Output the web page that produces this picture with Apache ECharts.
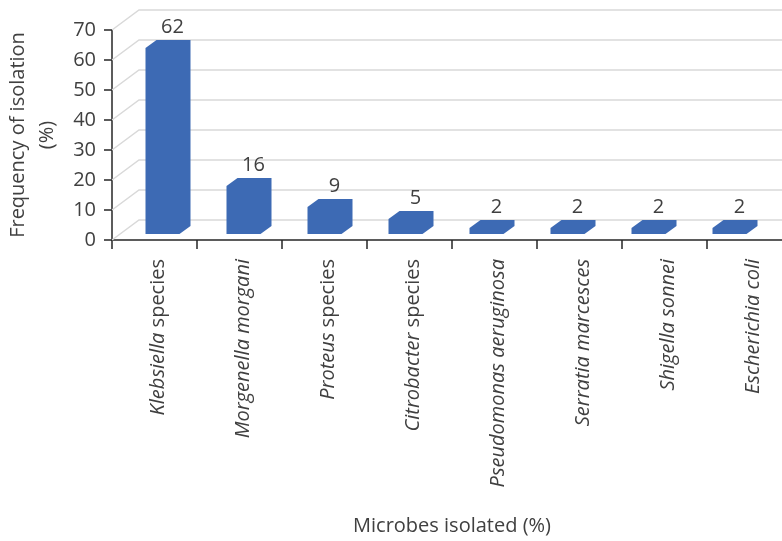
<!DOCTYPE html>
<html>
<head>
<meta charset="utf-8">
<script src="https://cdn.jsdelivr.net/npm/echarts@6/dist/echarts.min.js"></script>
<style>
  html, body { margin: 0; padding: 0; background: #fff; }
  #main { width: 782px; height: 541px; }
</style>
</head>
<body>
<div id="main"></div>
<script>
// microbes isolated and how often (%)
var microbes = [
  'Klebsiella species',
  'Morgenella morgani',
  'Proteus species',
  'Citrobacter species',
  'Pseudomonas aeruginosa',
  'Serratia marcesces',
  'Shigella sonnei',
  'Escherichia coli'
];
var frequency = [62, 16, 9, 5, 2, 2, 2, 2];
var yTicks = [0, 10, 20, 30, 40, 50, 60, 70];

var textColor = '#404040';
var barColor = '#3D6AB4';
var fontFam = '"Open Sans", "Noto Sans", sans-serif';
var fs = 20;

var myChart = echarts.init(document.getElementById('main'));

// genus in italics, "species" upright
function microbeLabel(name) {
  if (/ species$/.test(name)) {
    return '{i|' + name.replace(/ species$/, '') + '} {n|species}';
  }
  return '{i|' + name + '}';
}

// back wall gridlines of the fake 3d box
function renderWall(params, api) {
  var cs = params.coordSys;
  var y = api.coord([0, api.value(1)])[1];
  return {
    type: 'polyline',
    shape: { points: [[cs.x, y], [cs.x + 27, y - 20], [cs.x + cs.width, y - 20]] },
    style: { stroke: '#D9D9D9', lineWidth: 1.5, fill: null },
    z2: 0
  };
}

// 3d-ish column: front face + top + side, all one colour
function renderBar(params, api) {
  var top = api.coord([api.value(0), api.value(1)]);
  var base = api.coord([api.value(0), 0]);
  var fw = 34, dx = 11, dy = 8;
  var x0 = top[0] - fw / 2;
  var x1 = x0 + fw;
  return {
    type: 'group',
    children: [{
      type: 'polygon',
      shape: { points: [
        [x0, base[1]], [x0, top[1]], [x0 + dx, top[1] - dy],
        [x1 + dx, top[1] - dy], [x1 + dx, base[1] - dy], [x1, base[1]]
      ] },
      style: { fill: barColor }
    }, {
      type: 'text',
      x: x0 + 27, y: top[1] - dy - 13,
      style: {
        text: String(api.value(1)),
        fill: textColor, fontSize: fs, fontFamily: fontFam,
        align: 'center', verticalAlign: 'middle'
      }
    }]
  };
}

myChart.setOption({
  animation: false,
  backgroundColor: '#fff',
  textStyle: { fontFamily: fontFam },
  grid: [
    { left: 112, top: 30, width: 680, height: 210, outerBoundsMode: 'none', containLabel: false },
    { left: 122, top: 24, width: 648, height: 210, outerBoundsMode: 'none', containLabel: false }
  ],
  xAxis: [{
    type: 'category',
    gridIndex: 0,
    data: microbes,
    name: 'Microbes isolated (%)',
    nameLocation: 'middle',
    nameGap: 276,
    nameTextStyle: { color: textColor, fontSize: fs },
    axisLine: { lineStyle: { color: '#262626', width: 1.5 } },
    axisTick: { show: true, length: 9, interval: 0, lineStyle: { color: '#262626', width: 1.5 } },
    axisLabel: {
      interval: 0,
      rotate: 90,
      margin: 19,
      padding: [8, 0, 0, 0],
      color: textColor,
      fontSize: fs,
      formatter: microbeLabel,
      rich: {
        i: { fontStyle: 'italic', fontSize: fs, color: textColor, fontFamily: fontFam },
        n: { fontSize: fs, color: textColor, fontFamily: fontFam }
      }
    }
  }, {
    type: 'category',
    gridIndex: 1,
    data: microbes,
    show: false
  }],
  yAxis: [{
    type: 'value',
    gridIndex: 0,
    min: 0, max: 70, interval: 10,
    name: 'Frequency of isolation\n(%)',
    nameLocation: 'middle',
    nameRotate: 90,
    nameGap: 44,
    nameTextStyle: { color: textColor, fontSize: fs, lineHeight: 29 },
    axisLine: { show: true, lineStyle: { color: '#262626', width: 1.5 } },
    axisTick: { show: true, length: 8, lineStyle: { color: '#262626', width: 1.5 } },
    axisLabel: { color: textColor, fontSize: fs, margin: 16 },
    splitLine: { show: false }
  }, {
    type: 'value',
    gridIndex: 1,
    min: 0, max: 70,
    show: false
  }],
  series: [{
    type: 'custom',
    name: 'wall',
    xAxisIndex: 0, yAxisIndex: 0,
    renderItem: renderWall,
    data: yTicks.map(function (v) { return [0, v]; }),
    z: 1,
    silent: true
  }, {
    type: 'custom',
    name: 'Frequency',
    xAxisIndex: 1, yAxisIndex: 1,
    renderItem: renderBar,
    data: frequency.map(function (v, i) { return [i, v]; }),
    z: 2
  }]
});
</script>
</body>
</html>
